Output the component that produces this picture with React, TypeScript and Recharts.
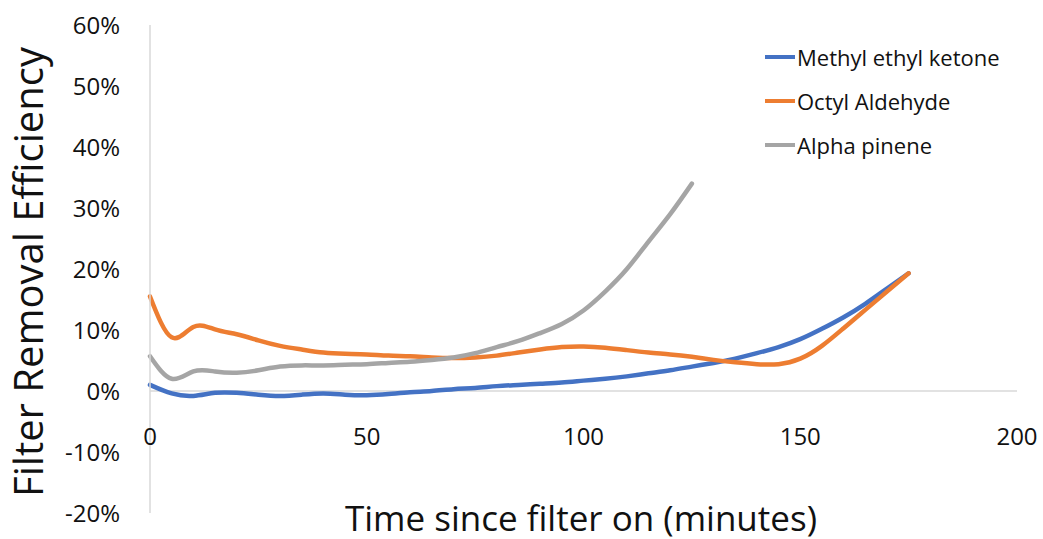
import React from 'react';
import { LineChart, Line, XAxis, YAxis, ReferenceLine, Legend } from 'recharts';

// minutes since the filter was switched on
const mekTime = [0, 5, 10, 15, 20, 25, 30, 35, 40, 45, 50, 55, 60, 65, 70, 75, 80, 85, 90, 95, 100, 105, 110, 115, 120, 125, 130, 135, 140, 145, 150, 155, 160, 165, 170, 175];
const mekEff = [1.0, -0.4, -0.8, -0.3, -0.3, -0.6, -0.8, -0.6, -0.4, -0.6, -0.7, -0.5, -0.2, 0.0, 0.3, 0.5, 0.8, 1.0, 1.2, 1.4, 1.7, 2.0, 2.4, 2.9, 3.4, 4.0, 4.6, 5.3, 6.2, 7.2, 8.5, 10.2, 12.1, 14.3, 16.8, 19.3];

const octylTime = [0, 5, 10, 15, 20, 25, 30, 35, 40, 45, 50, 55, 60, 65, 70, 75, 80, 85, 90, 95, 100, 105, 110, 115, 120, 125, 130, 135, 140, 145, 150, 155, 160, 165, 170, 175];
const octylEff = [15.5, 8.8, 10.5, 10.1, 9.3, 8.3, 7.4, 6.8, 6.3, 6.1, 6.0, 5.8, 5.7, 5.5, 5.4, 5.5, 5.8, 6.3, 6.8, 7.2, 7.3, 7.1, 6.7, 6.3, 6.0, 5.6, 5.1, 4.7, 4.4, 4.4, 5.3, 7.4, 10.3, 13.3, 16.3, 19.3];

const pineneTime = [0, 5, 10, 15, 20, 25, 30, 35, 40, 45, 50, 55, 60, 65, 70, 75, 80, 85, 90, 95, 100, 105, 110, 115, 120, 125];
const pineneEff = [5.7, 2.0, 3.2, 3.2, 3.0, 3.4, 4.0, 4.2, 4.2, 4.3, 4.4, 4.6, 4.8, 5.1, 5.5, 6.2, 7.2, 8.2, 9.5, 11.0, 13.2, 16.3, 20.0, 24.5, 29.0, 34.0];

const seriesNames = ['Methyl ethyl ketone', 'Octyl Aldehyde', 'Alpha pinene'];
const seriesColors = ['#4472C4', '#ED7D31', '#A5A5A5'];

const xTicks = [0, 50, 100, 150, 200];
const yTicks = [-20, -10, 0, 10, 20, 30, 40, 50, 60];

const toRows = (t: number[], v: number[]) => t.map((time, i) => ({ time, eff: v[i] }));
const series = [
  toRows(mekTime, mekEff),
  toRows(octylTime, octylEff),
  toRows(pineneTime, pineneEff),
];

const FONT = '"Open Sans", sans-serif';
const PLOT_BOTTOM = 513;

// x tick labels sit just under the 0% line, not at the bottom of the plot
const renderXTick = (props: any) => {
  const { x, payload } = props;
  return (
    <text x={x} y={PLOT_BOTTOM - 77} textAnchor="middle" dy="0.355em" fill="#111" fontSize={24} fontFamily={FONT}>
      {payload.value}
    </text>
  );
};

const renderLegend = () => (
  <div style={{ fontFamily: FONT, fontSize: 22, color: '#111' }}>
    {seriesNames.map((name, i) => (
      <div key={name} style={{ display: 'flex', alignItems: 'center', height: 44 }}>
        <span style={{ display: 'inline-block', width: 30, height: 4, background: seriesColors[i], marginRight: 2 }} />
        <span>{name}</span>
      </div>
    ))}
  </div>
);

export default function App() {
  return (
    <div style={{ position: 'absolute', left: 0, top: 0, width: 1043, height: 539, background: '#fff' }}>
      <LineChart width={1043} height={539} margin={{ top: 25, right: 26, bottom: 0, left: 0 }}>
        <XAxis
          dataKey="time"
          type="number"
          domain={[0, 200]}
          ticks={xTicks}
          interval={0}
          axisLine={false}
          tickLine={false}
          height={26}
          tick={renderXTick}
          allowDuplicatedCategory={false}
        />
        <YAxis
          type="number"
          domain={[-20, 60]}
          ticks={yTicks}
          width={150}
          tickSize={0}
          tickMargin={30}
          tickLine={false}
          axisLine={{ stroke: '#d9d9d9', strokeWidth: 1.5 }}
          tickFormatter={(v: number) => `${v}%`}
          tick={{ fill: '#111', fontSize: 24, fontFamily: FONT }}
        />
        <ReferenceLine y={0} stroke="#d9d9d9" strokeWidth={1.5} />
        <Legend
          layout="horizontal"
          verticalAlign="middle"
          align="center"
          content={renderLegend}
          wrapperStyle={{ top: 35, left: 765, width: 278 }}
        />
        {series.map((rows, i) => (
          <Line
            key={seriesNames[i]}
            data={rows}
            dataKey="eff"
            name={seriesNames[i]}
            type="natural"
            stroke={seriesColors[i]}
            strokeWidth={4.5}
            strokeLinecap="round"
            dot={false}
            activeDot={false}
            isAnimationActive={false}
          />
        ))}
      </LineChart>
      <div
        style={{
          position: 'absolute', left: 0, top: 0, width: 1043,
          fontFamily: FONT, color: '#111',
        }}
      >
        <div style={{ position: 'absolute', left: 345, top: 498, fontSize: 35, lineHeight: '40px', whiteSpace: 'nowrap' }}>
          Time since filter on (minutes)
        </div>
        <div
          style={{
            position: 'absolute', left: 28, top: 272, fontSize: 40, lineHeight: '44px', whiteSpace: 'nowrap',
            transform: 'translate(-50%, -50%) rotate(-90deg)',
          }}
        >
          Filter Removal Efficiency
        </div>
      </div>
    </div>
  );
}
